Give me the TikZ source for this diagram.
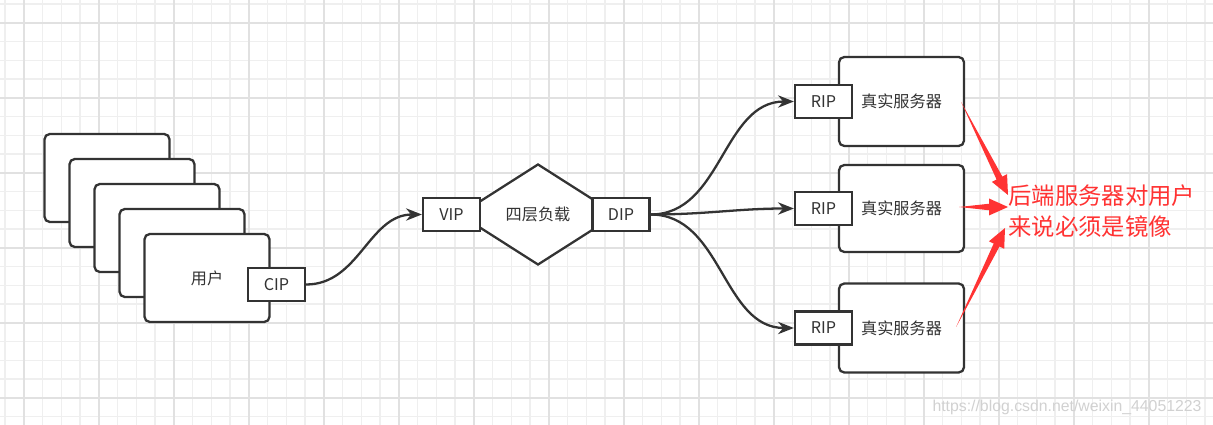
\documentclass[tikz,border=0pt]{standalone}
\usepackage{fontspec}
\setmainfont{Noto Sans CJK SC}
\newfontfamily\wmfont{Liberation Sans}
\usepackage{tikz}
\usetikzlibrary{arrows.meta}
\usetikzlibrary{calc}
\usetikzlibrary{shapes.geometric}

\definecolor{linegray}{HTML}{333333}
\definecolor{notered}{HTML}{FF3333}
\definecolor{minorgrid}{HTML}{EFEFEF}
\definecolor{majorgrid}{HTML}{E1E1E1}

% tapered red arrow, from #1 to #2
\newcommand{\redspear}[2]{%
  \coordinate (spearbase) at ($(#2)!0.38cm!(#1)$);
  \fill[notered] (#1) -- ($(spearbase)!0.065cm!90:(#2)$) -- ($(spearbase)!0.17cm!90:(#2)$) -- (#2)
    -- ($(spearbase)!0.17cm!-90:(#2)$) -- ($(spearbase)!0.065cm!-90:(#2)$) -- cycle;}

\begin{document}
\begin{tikzpicture}[x=0.02cm, y=-0.02cm,
  every node/.style={font=\fontsize{9.2}{11}\selectfont, text=linegray},
  box/.style={draw=linegray, line width=1.3pt, fill=white, inner sep=0pt},
  ipbox/.style={box, minimum width=1.14cm, minimum height=0.66cm},
  host/.style={box, rounded corners=3pt, minimum width=2.5cm, minimum height=1.76cm},
  conn/.style={draw=linegray, line width=1.3pt, -{Stealth[length=9pt,width=7pt]}},
  notetext/.style={font=\fontsize{13.3}{17.5}\selectfont, text=notered, inner sep=0pt, align=left}]
\useasboundingbox (0,0) rectangle (1213,425);
\fill[white] (0,0) rectangle (1213,425);

% grid
\foreach \gx in {0,...,64} \draw[minorgrid, line width=0.7pt] ({5+18.75*\gx},0) -- ({5+18.75*\gx},425);
\foreach \gy in {0,...,22} \draw[minorgrid, line width=0.7pt] (0,{4+18.75*\gy}) -- (1213,{4+18.75*\gy});
\foreach \gx in {0,...,15} \draw[majorgrid, line width=0.7pt] ({24+75*\gx},0) -- ({24+75*\gx},425);
\foreach \gy in {0,...,5} \draw[majorgrid, line width=0.7pt] (0,{23+75*\gy}) -- (1213,{23+75*\gy});

% users
\node[host](u1) at (107, 178) {};
\node[host](u2) at (132, 203) {};
\node[host](u3) at (157, 228) {};
\node[host](u4) at (182, 253) {};
\node[host](u5) at (207, 278) {用户};
\node[ipbox](cip) at (276.5, 284.5) {CIP};

% load balancer
\node[box, diamond, minimum width=3.16cm, minimum height=2.02cm](lb) at (538, 214.5) {四层负载};
\node[ipbox](vip) at (451.5, 214.5) {VIP};
\node[ipbox](dip) at (621, 214.5) {DIP};

% real servers
\node[host, minimum height=1.78cm](srv1) at (901.5, 101.5) {真实服务器};
\node[host, minimum height=1.74cm](srv2) at (901.5, 208.5) {真实服务器};
\node[host, minimum height=1.78cm](srv3) at (901.5, 328) {真实服务器};
\node[ipbox](rip1) at (823.5, 101.5) {RIP};
\node[ipbox](rip2) at (823.5, 208.5) {RIP};
\node[ipbox](rip3) at (823.5, 328) {RIP};

\draw[conn] (cip.east) to[out=0, in=180] (vip.west);
\draw[conn] (dip.east) to[out=0, in=180] (rip1.west);
\draw[conn] (dip.east) to[out=0, in=180] (rip2.west);
\draw[conn] (dip.east) to[out=0, in=180] (rip3.west);

% note
\node[notetext, anchor=west](note) at (1008, 211) {后端服务器对用户\\来说必须是镜像};
\coordinate (t1) at ($(note.west)+(0,-16)$);
\coordinate (t2) at ($(note.west)+(0,-4)$);
\coordinate (t3) at ($(note.west)+(-3,17)$);
\coordinate (s1) at ($(srv1.east)+(-4,0.5)$);
\coordinate (s2) at ($(srv2.east)+(-6,-1.5)$);
\coordinate (s3) at ($(srv3.east)+(-9,-1)$);
\redspear{s1}{t1}
\redspear{s2}{t2}
\redspear{s3}{t3}

\node[font=\wmfont\fontsize{9}{11}\selectfont, text=black!18](wm) at (1067, 407) {https://blog.csdn.net/weixin\_44051223};
\end{tikzpicture}
\end{document}
